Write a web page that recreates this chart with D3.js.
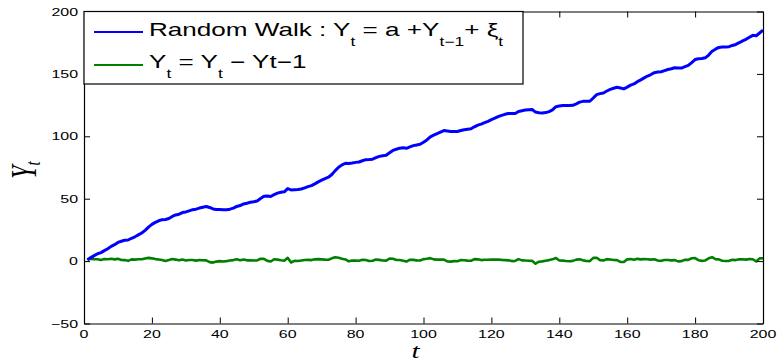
<!DOCTYPE html>
<html>
<head>
<meta charset="utf-8">
<script src="https://cdn.jsdelivr.net/npm/d3@7"></script>
<style>
  html, body { margin: 0; padding: 0; background: #fff; }
  svg { display: block; }
</style>
</head>
<body>
<svg id="chart" width="779" height="362"></svg>
<script>
// ---- data ----
const xTicks = [0, 20, 40, 60, 80, 100, 120, 140, 160, 180, 200];
const yTicks = [-50, 0, 50, 100, 150, 200];

// random walk Y_t, t = 1..200
const randomWalk = [
  1.0, 2.8, 4.4, 5.9, 6.8, 8.4, 9.9, 11.8, 13.2, 15.0,
  15.9, 16.7, 16.9, 18.3, 19.5, 21.0, 22.5, 24.6, 27.2, 29.4,
  31.0, 32.3, 33.2, 33.3, 34.1, 35.8, 37.0, 37.6, 38.9, 39.4,
  40.3, 41.2, 41.6, 42.5, 43.2, 43.8, 43.0, 41.8, 41.4, 41.4,
  41.1, 41.1, 41.6, 42.4, 43.8, 44.5, 45.8, 46.4, 47.1, 47.6,
  48.2, 50.1, 51.9, 52.1, 51.8, 53.3, 54.5, 55.2, 55.5, 58.1,
  57.0, 57.2, 57.3, 57.8, 58.7, 59.7, 60.5, 61.9, 63.5, 64.9,
  66.1, 67.2, 69.4, 72.5, 75.2, 77.1, 78.4, 78.2, 78.6, 79.1,
  79.4, 80.4, 81.3, 81.4, 81.7, 82.9, 83.9, 84.4, 84.8, 86.8,
  88.7, 89.6, 90.5, 90.8, 90.4, 91.5, 92.5, 93.1, 93.6, 95.2,
  97.1, 99.5, 100.9, 102.1, 103.4, 104.6, 104.3, 103.9, 103.9, 103.8,
  104.6, 105.3, 105.7, 106.0, 107.6, 109.0, 109.8, 110.9, 112.0, 113.3,
  114.5, 115.8, 116.8, 117.6, 118.2, 118.2, 118.3, 119.9, 120.5, 121.0,
  121.3, 121.5, 119.4, 118.9, 118.7, 119.0, 119.8, 121.2, 123.7, 124.2,
  124.6, 124.7, 124.6, 124.8, 126.0, 127.4, 128.0, 128.1, 128.1, 130.7,
  133.4, 134.2, 134.7, 136.3, 137.6, 138.5, 139.3, 138.7, 138.0, 139.4,
  141.0, 142.0, 143.8, 145.2, 146.8, 148.3, 149.5, 151.0, 151.5, 151.7,
  152.6, 153.5, 154.1, 154.9, 154.7, 154.7, 155.8, 156.8, 159.1, 161.5,
  162.2, 162.4, 162.9, 165.1, 168.2, 169.8, 171.2, 171.5, 171.6, 171.8,
  172.8, 173.6, 175.0, 176.5, 177.7, 179.4, 180.9, 180.6, 182.8, 185.1
];

// differences, t = 1..200
const differences = [
  1.0, 1.8, 1.6, 1.5, 0.9, 1.6, 1.5, 1.9, 1.4, 1.8,
  0.9, 0.8, 0.2, 1.4, 1.2, 1.5, 1.5, 2.1, 2.6, 2.2,
  1.6, 1.3, 0.9, 0.1, 0.8, 1.7, 1.2, 0.6, 1.3, 0.5,
  0.9, 0.9, 0.4, 0.9, 0.7, 0.6, -0.8, -1.2, -0.4, 0.0,
  -0.3, 0.0, 0.5, 0.8, 1.4, 0.7, 1.3, 0.6, 0.7, 0.5,
  0.6, 1.9, 1.8, 0.2, -0.3, 1.5, 1.2, 0.7, 0.3, 2.6,
  -1.1, 0.2, 0.1, 0.5, 0.9, 1.0, 0.8, 1.4, 1.6, 1.4,
  1.2, 1.1, 2.2, 3.1, 2.7, 1.9, 1.3, -0.2, 0.4, 0.5,
  0.3, 1.0, 0.9, 0.1, 0.3, 1.2, 1.0, 0.5, 0.4, 2.0,
  1.9, 0.9, 0.9, 0.3, -0.4, 1.1, 1.0, 0.6, 0.5, 1.6,
  1.9, 2.4, 1.4, 1.2, 1.3, 1.2, -0.3, -0.4, 0.0, -0.1,
  0.8, 0.7, 0.4, 0.3, 1.6, 1.4, 0.8, 1.1, 1.1, 1.3,
  1.2, 1.3, 1.0, 0.8, 0.6, 0.0, 0.1, 1.6, 0.6, 0.5,
  0.3, 0.2, -2.1, -0.5, -0.2, 0.3, 0.8, 1.4, 2.5, 0.5,
  0.4, 0.1, -0.1, 0.2, 1.2, 1.4, 0.6, 0.1, 0.0, 2.6,
  2.7, 0.8, 0.5, 1.6, 1.3, 0.9, 0.8, -0.6, -0.7, 1.4,
  1.6, 1.0, 1.8, 1.4, 1.6, 1.5, 1.2, 1.5, 0.5, 0.2,
  0.9, 0.9, 0.6, 0.8, -0.2, 0.0, 1.1, 1.0, 2.3, 2.4,
  0.7, 0.2, 0.5, 2.2, 3.1, 1.6, 1.4, 0.3, 0.1, 0.2,
  1.0, 0.8, 1.4, 1.5, 1.2, 1.7, 1.5, -0.3, 2.2, 2.3
];

// ---- drawing ----
(function () {
const SX = 1.45; // horizontal text stretch seen in the reference
const svg = d3.select("#chart");
const pLeft = 84, pRight = 763, pTop = 11.5, pBottom = 323.5;

const x = d3.scaleLinear().domain([0, 200]).range([pLeft, pRight]);
const y = d3.scaleLinear().domain([-50, 200]).range([pBottom, pTop]);

const line = d3.line()
  .x((d, i) => x(i + 1))
  .y(d => y(d));

svg.append("path")
  .datum(differences)
  .attr("fill", "none")
  .attr("stroke", "#008000")
  .attr("stroke-width", 2.6)
  .attr("stroke-linejoin", "round")
  .attr("d", line);

svg.append("path")
  .datum(randomWalk)
  .attr("fill", "none")
  .attr("stroke", "#0000ff")
  .attr("stroke-width", 3)
  .attr("stroke-linejoin", "round")
  .attr("d", line);

// axes (ticks inside, on all four sides)
function styleAxis(g) {
  g.selectAll(".domain").attr("stroke", "#000").attr("stroke-width", 1.2);
  g.selectAll(".tick line").attr("stroke", "#000").attr("stroke-width", 1);
}
const bottomAxis = svg.append("g")
  .attr("transform", `translate(0,${pBottom})`)
  .call(d3.axisBottom(x).tickValues(xTicks).tickSize(-6).tickSizeOuter(0).tickFormat(""));
styleAxis(bottomAxis);
const topAxis = svg.append("g")
  .attr("transform", `translate(0,${pTop})`)
  .call(d3.axisTop(x).tickValues(xTicks).tickSize(-6).tickSizeOuter(0).tickFormat(""));
styleAxis(topAxis);
const leftAxis = svg.append("g")
  .attr("transform", `translate(${pLeft},0)`)
  .call(d3.axisLeft(y).tickValues(yTicks).tickSize(-6).tickSizeOuter(0).tickFormat(""));
styleAxis(leftAxis);
const rightAxis = svg.append("g")
  .attr("transform", `translate(${pRight},0)`)
  .call(d3.axisRight(y).tickValues(yTicks).tickSize(-6).tickSizeOuter(0).tickFormat(""));
styleAxis(rightAxis);

const fmt = d3.format("d");
const font = "'Liberation Sans', Arial, Helvetica, sans-serif";

svg.append("g").selectAll("text")
  .data(xTicks).join("text")
  .attr("transform", d => `translate(${x(d)},${pBottom + 14}) scale(${SX},1)`)
  .attr("text-anchor", "middle")
  .attr("font-family", font)
  .attr("font-size", 11)
  .attr("fill", "#000")
  .text(d => fmt(d));

svg.append("g").selectAll("text")
  .data(yTicks).join("text")
  .attr("transform", d => `translate(${pLeft - 6},${y(d) + 4}) scale(${SX},1)`)
  .attr("text-anchor", "end")
  .attr("font-family", font)
  .attr("font-size", 11)
  .attr("fill", "#000")
  .text(d => fmt(d));

// axis labels
const serif = "'Liberation Serif', 'DejaVu Serif', serif";
svg.append("text")
  .attr("transform", `translate(${(pLeft + pRight) / 2 - 8},357.5) scale(${SX},1)`)
  .attr("text-anchor", "middle")
  .attr("font-family", serif)
  .attr("font-style", "italic")
  .attr("font-size", 20)
  .attr("fill", "#000")
  .text("t");

const yl = svg.append("text")
  .attr("transform", `translate(36,170) scale(${SX},1) rotate(-90)`)
  .attr("text-anchor", "middle")
  .attr("font-family", serif)
  .attr("font-style", "italic")
  .attr("font-size", 24)
  .attr("fill", "#000");
yl.append("tspan").text("Y");
yl.append("tspan").attr("font-size", 15).attr("dy", 3).text("t");

// legend
const lg = svg.append("g");
lg.append("rect")
  .attr("x", pLeft).attr("y", pTop)
  .attr("width", 439).attr("height", 72.5)
  .attr("fill", "#fff").attr("stroke", "#000").attr("stroke-width", 1.2);

const entries = [
  { color: "#0000ff", yLine: 32, base: 35.5,
    parts: [["Random Walk : Y", 0], ["t", 1], [" = a +Y", 0], ["t\u22121", 1], ["+ \u03BE", 0], ["t", 1]] },
  { color: "#008000", yLine: 65, base: 67.5,
    parts: [["Y", 0], ["t", 1], [" = Y", 0], ["t", 1], [" \u2212 Yt\u22121", 0]] }
];
entries.forEach(e => {
  lg.append("line")
    .attr("x1", 94).attr("x2", 143)
    .attr("y1", e.yLine).attr("y2", e.yLine)
    .attr("stroke", e.color).attr("stroke-width", 2);
  const t = lg.append("text")
    .attr("transform", `translate(149,${e.base}) scale(${SX},1)`)
    .attr("font-family", font)
    .attr("font-size", 18)
    .attr("fill", "#000");
  let cur = 0;
  e.parts.forEach(([s, sub]) => {
    const target = sub ? 10 : 0;
    t.append("tspan")
      .attr("dy", target - cur)
      .attr("font-size", sub ? 12 : 18)
      .text(s);
    cur = target;
  });
});
})();
</script>
</body>
</html>
